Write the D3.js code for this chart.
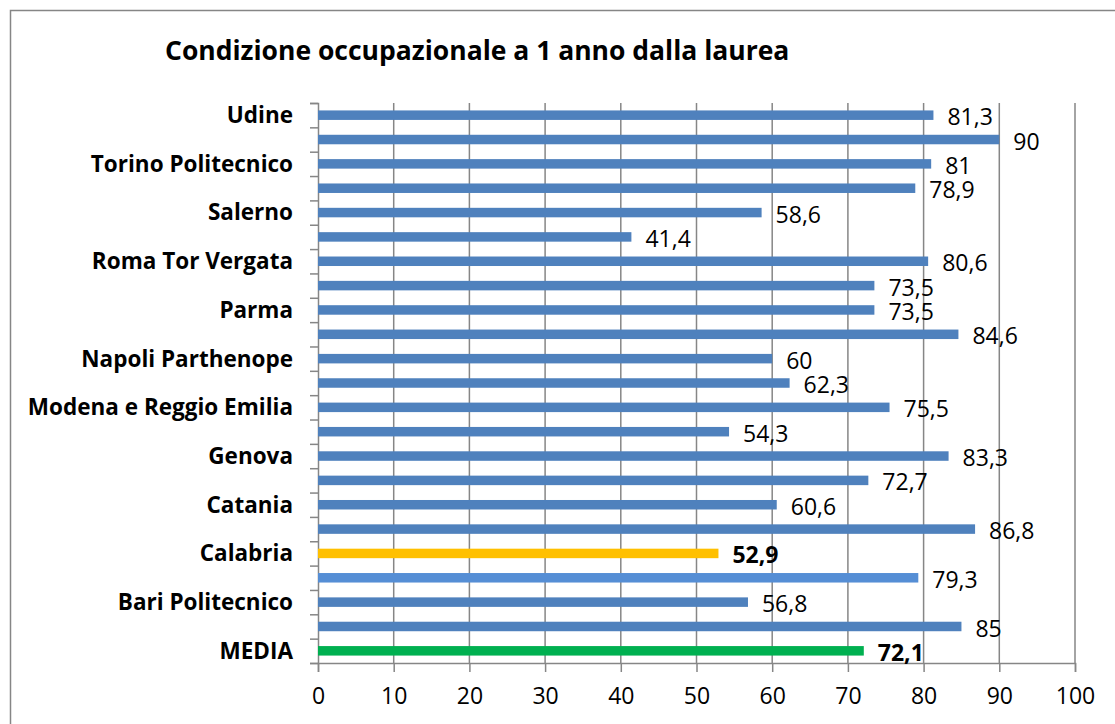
<!DOCTYPE html>
<html>
<head>
<meta charset="utf-8">
<script src="https://cdn.jsdelivr.net/npm/d3@7"></script>
<style>
  body { margin: 0; background: #fff; }
  svg { font-family: "Open Sans", "Liberation Sans", sans-serif; }
</style>
</head>
<body>
<svg width="1115" height="724"></svg>
<script>
// rows from bottom to top, as in the chart; "" = label skipped on the axis
var labels = ["MEDIA", "", "Bari Politecnico", "", "Calabria", "", "Catania", "",
  "Genova", "", "Modena e Reggio Emilia", "", "Napoli Parthenope", "", "Parma", "",
  "Roma Tor Vergata", "", "Salerno", "", "Torino Politecnico", "", "Udine"];
var values = [72.1, 85, 56.8, 79.3, 52.9, 86.8, 60.6, 72.7, 83.3, 54.3, 75.5, 62.3,
  60, 84.6, 73.5, 73.5, 80.6, 41.4, 58.6, 78.9, 81, 90, 81.3];
var xTicks = [0, 10, 20, 30, 40, 50, 60, 70, 80, 90, 100];
var title = "Condizione occupazionale a 1 anno dalla laurea";

var blue = "#4F81BD", lightBlue = "#558ED5", yellow = "#FFC000", green = "#00B050";
function barColor(i) {
  if (labels[i] == "MEDIA") return green;
  if (labels[i] == "Calabria") return yellow;
  if (i == 3) return lightBlue;
  return blue;
}
function highlighted(i) { return labels[i] == "MEDIA" || labels[i] == "Calabria"; }

var svg = d3.select("svg");

// outer chart border
svg.append("rect")
  .attr("x", 10.5).attr("y", 10.5)
  .attr("width", 1120).attr("height", 730)
  .attr("fill", "none").attr("stroke", "#868686").attr("stroke-width", 1.5);

svg.append("text")
  .attr("x", 165).attr("y", 60)
  .attr("font-size", 26.5).attr("font-weight", "bold")
  .text(title);

var pLeft = 318, pRight = 1075, pTop = 103, pBottom = 663;

var x = d3.scaleLinear().domain([0, 100]).range([pLeft, pRight]);
var y = d3.scaleBand()
  .domain(d3.range(values.length))
  .range([pBottom, pTop]);

// vertical gridlines
svg.append("g").selectAll("line")
  .data(xTicks.slice(1))
  .enter().append("line")
  .attr("x1", d => x(d)).attr("x2", d => x(d))
  .attr("y1", pTop).attr("y2", pBottom)
  .attr("stroke", "#868686").attr("stroke-width", 1.5);

// bottom axis
var xAxis = svg.append("g")
  .attr("transform", "translate(0," + pBottom + ")")
  .call(d3.axisBottom(x).tickValues(xTicks).tickSize(9).tickPadding(16));
xAxis.selectAll("path, line").attr("stroke", "#868686").attr("stroke-width", 1.5);
xAxis.selectAll("text").attr("font-size", 23).attr("fill", "#000")
  .attr("font-family", "Open Sans, sans-serif");

// left axis, ticks between categories
var yEdge = d3.scaleLinear().domain([0, values.length]).range([pBottom, pTop]);
var yAxis = svg.append("g")
  .attr("transform", "translate(" + pLeft + ",0)")
  .call(d3.axisLeft(yEdge).tickValues(d3.range(values.length + 1)).tickSize(8).tickFormat(""));
yAxis.selectAll("path, line").attr("stroke", "#868686").attr("stroke-width", 1.5);

// category labels
svg.append("g").selectAll("text")
  .data(labels)
  .enter().append("text")
  .attr("x", 293)
  .attr("y", (d, i) => y(i) + y.bandwidth() / 2)
  .attr("dy", "0.35em")
  .attr("text-anchor", "end")
  .attr("font-size", 22.5).attr("font-weight", "bold")
  .text(d => d);

// bars
var barH = 9.5;
svg.append("g").selectAll("rect")
  .data(values)
  .enter().append("rect")
  .attr("x", x(0))
  .attr("y", (d, i) => y(i) + y.bandwidth() / 2 - barH / 2)
  .attr("width", d => x(d) - x(0))
  .attr("height", barH)
  .attr("fill", (d, i) => barColor(i));

// value labels
var fmt = d => String(d).replace(".", ",");
svg.append("g").selectAll("text")
  .data(values)
  .enter().append("text")
  .attr("x", d => x(d) + 14)
  .attr("y", (d, i) => y(i) + y.bandwidth() / 2 + 2)
  .attr("dy", "0.35em")
  .attr("font-size", 23)
  .attr("font-weight", (d, i) => highlighted(i) ? "bold" : "normal")
  .text(fmt);
</script>
</body>
</html>
